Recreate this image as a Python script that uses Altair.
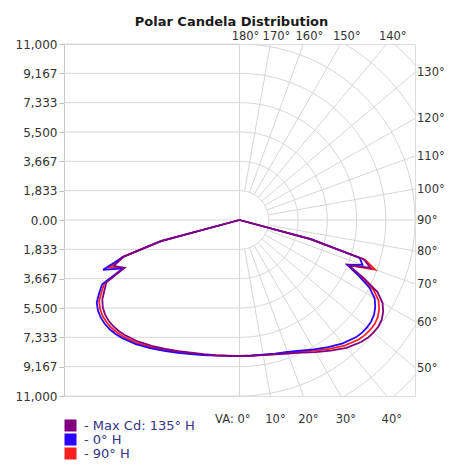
import altair as alt
import numpy as np
import pandas as pd

TITLE = "Polar Candela Distribution"
SERIES = ["Max Cd: 135° H", "0° H", "90° H"]
COLORS = ["#800080", "#2a00ff", "#ff2020"]
MAX_CD = 11000
N_STEPS = 6

# vertical angles (degrees from nadir)
VA = [0, 5, 10, 15, 20, 25, 30, 35, 40, 45, 47.5, 50, 52.5, 55, 57.5, 60, 62.5, 65, 67.5, 70, 72.5, 75, 80, 90]

# candela, right half (plane itself) and left half (opposite plane)
MAX_R = [8500, 8520, 8580, 8700, 8880, 9150, 9530, 9970, 10430, 10780, 10900, 10950, 10960, 10880, 10680, 10350, 9750, 8600, 7400, 8750, 8150, 4600, 0, 0]
MAX_L = [8500, 8510, 8570, 8680, 8830, 9050, 9310, 9610, 9910, 10170, 10270, 10330, 10340, 10290, 10160, 9930, 9550, 9200, 7800, 8400, 7600, 5000, 0, 0]
H0_R = [8500, 8500, 8540, 8640, 8780, 9010, 9330, 9700, 10070, 10350, 10420, 10440, 10410, 10300, 10090, 9780, 9200, 8250, 7300, 8200, 7900, 4700, 0, 0]
H0_L = [8500, 8530, 8610, 8740, 8920, 9160, 9450, 9780, 10120, 10420, 10540, 10620, 10650, 10620, 10520, 10330, 9920, 9500, 7900, 9100, 7630, 5200, 0, 0]
H90_R = [8500, 8510, 8560, 8670, 8830, 9080, 9430, 9830, 10250, 10560, 10650, 10690, 10680, 10580, 10380, 10060, 9480, 8400, 7350, 9050, 8250, 4500, 0, 0]
H90_L = [8500, 8520, 8590, 8710, 8880, 9110, 9380, 9700, 10020, 10300, 10410, 10480, 10500, 10470, 10360, 10160, 9750, 9350, 7850, 8700, 7700, 5100, 0, 0]

TOP_ANGLES = [180, 170, 160, 150, 140]
RIGHT_ANGLES = [130, 120, 110, 100, 90, 80, 70, 60, 50]
BOTTOM_ANGLES = [10, 20, 30, 40]
RADIAL_ANGLES = [10, 20, 30, 40, 50, 60, 70, 80, 90, 100, 110, 120, 130, 140, 150, 160, 170]
RINGS = [1, 2, 3, 4, 5, 6, 7, 8]

STEP = MAX_CD / N_STEPS
TICKS = [k * STEP for k in range(-N_STEPS, N_STEPS + 1)]

# ---- curve table (drawn red, blue, purple so purple is on top)
rows = []
for name, right, left in [(SERIES[2], H90_R, H90_L), (SERIES[1], H0_R, H0_L), (SERIES[0], MAX_R, MAX_L)]:
    for a, v in zip(VA, left):
        rows.append({"series": name, "va": a, "cd": v, "side": -1, "ord": -a - 0.001})
    for a, v in zip(VA, right):
        rows.append({"series": name, "va": a, "cd": v, "side": 1, "ord": a})
curves = pd.DataFrame(rows)

xs = alt.Scale(domain=[-MAX_CD, MAX_CD], nice=False, zero=False)
ys = alt.Scale(domain=[-MAX_CD, MAX_CD], nice=False, zero=False)
GRID = "#d6d6d6"
TXT = "#333333"
FONT = "DejaVu Sans"

yaxis = alt.Axis(
    values=TICKS, grid=False, title=None,
    labelExpr="datum.value == 0 ? '0.00' : format(abs(datum.value), ',.0f')",
    labelFont=FONT, labelFontSize=12, labelColor=TXT, labelPadding=2,
    labelOverlap=False, tickSize=5, tickColor="#bdbdbd", domainColor="#c8c8c8",
)


def X(f):
    return alt.X(f, scale=xs, axis=None)


def Y(f):
    return alt.Y(f, scale=ys, axis=yaxis)


# horizontal grid on the left half
hgrid = alt.Chart(pd.DataFrame({"y": TICKS})).transform_calculate(
    x0=f"-{MAX_CD}", x1="0"
).mark_rule(color=GRID, strokeWidth=1).encode(
    y=Y("y:Q"), x=X("x0:Q"), x2="x1:Q",
)

# central vertical line (0° / 180°)
vline = alt.Chart(pd.DataFrame({"x": [0], "y0": [-MAX_CD], "y1": [MAX_CD]})).mark_rule(
    color=GRID, strokeWidth=1
).encode(x=X("x:Q"), y=Y("y0:Q"), y2="y1:Q")

# rings on the right half
ring_rows = [{"k": k, "phi": p} for k in RINGS for p in range(0, 181, 2)]
rings = alt.Chart(pd.DataFrame(ring_rows)).transform_calculate(
    x=f"datum.k*{STEP}*sin(datum.phi*PI/180)",
    y=f"-datum.k*{STEP}*cos(datum.phi*PI/180)",
).mark_line(color=GRID, strokeWidth=1, clip=True).encode(
    x=X("x:Q"), y=Y("y:Q"), detail="k:N", order="phi:Q",
)

# radial lines
radials = alt.Chart(pd.DataFrame({"a": RADIAL_ANGLES})).transform_calculate(
    x=f"{STEP}*sin(datum.a*PI/180)",
    y=f"-{STEP}*cos(datum.a*PI/180)",
    x2=f"{MAX_CD * 2}*sin(datum.a*PI/180)",
    y2=f"-{MAX_CD * 2}*cos(datum.a*PI/180)",
).mark_rule(color=GRID, strokeWidth=1, clip=True).encode(
    x=X("x:Q"), y=Y("y:Q"), x2="x2:Q", y2="y2:Q",
)

legend = alt.Legend(
    title=None, orient="none", legendX=0, legendY=375, direction="vertical",
    symbolType="square", symbolSize=36, symbolStrokeWidth=6, symbolOpacity=1,
    labelFont=FONT, labelFontSize=13, labelColor="#333388",
    labelExpr="'- ' + datum.label", rowPadding=0, labelOffset=7, padding=0,
    clipHeight=13,
)

# curves
lines = alt.Chart(curves).transform_calculate(
    x="datum.side*datum.cd*sin(datum.va*PI/180)",
    y="-datum.cd*cos(datum.va*PI/180)",
).mark_line(strokeWidth=1.8, clip=True).encode(
    x=X("x:Q"), y=Y("y:Q"),
    stroke=alt.Stroke("series:N", scale=alt.Scale(domain=SERIES, range=COLORS), legend=legend),
    detail="series:N",
    order="ord:Q",
)

label_style = dict(font=FONT, fontSize=11.5, color=TXT)

top_labels = alt.Chart(pd.DataFrame({"a": TOP_ANGLES})).transform_calculate(
    x=f"{MAX_CD}*tan((180-datum.a)*PI/180)",
    y=f"{MAX_CD}",
    t="datum.a + '°'",
).mark_text(align="center", baseline="alphabetic", dx=6, dy=-4, **label_style).encode(
    x=X("x:Q"), y=Y("y:Q"), text="t:N"
)

right_labels = alt.Chart(pd.DataFrame({"a": RIGHT_ANGLES})).transform_calculate(
    x=f"{MAX_CD}",
    y=f"-{MAX_CD}*cos(datum.a*PI/180)/sin(datum.a*PI/180)",
    t="datum.a + '°'",
).mark_text(align="left", baseline="middle", dx=2, dy=1, **label_style).encode(
    x=X("x:Q"), y=Y("y:Q"), text="t:N"
)

bottom_labels = alt.Chart(pd.DataFrame({"a": BOTTOM_ANGLES})).transform_calculate(
    x=f"{MAX_CD}*tan(datum.a*PI/180)",
    y=f"-{MAX_CD}",
    t="datum.a + '°'",
).mark_text(align="center", baseline="middle", dx=5, dy=24, **label_style).encode(
    x=X("x:Q"), y=Y("y:Q"), text="t:N"
)

va_label = alt.Chart(pd.DataFrame({"a": [0]})).transform_calculate(
    x="0", y=f"-{MAX_CD}", t="'VA: ' + datum.a + '°'",
).mark_text(align="right", baseline="middle", dx=11, dy=24, **label_style).encode(
    x=X("x:Q"), y=Y("y:Q"), text="t:N"
)

chart = alt.layer(
    hgrid, vline, rings, radials, lines,
    top_labels, right_labels, bottom_labels, va_label,
).properties(
    width=351,
    height=352,
    title=alt.TitleParams(
        TITLE, font=FONT, fontSize=13, fontWeight="bold", color="#1a1a1a",
        anchor="middle", dx=-8, offset=2,
    ),
    autosize=alt.AutoSizeParams(type="none"),
    padding={"left": 56, "top": 36, "right": 30, "bottom": 65},
).configure_view(stroke="#c8c8c8", strokeWidth=1).configure(font=FONT)

chart.save("out.html", embed_options={"renderer": "svg", "actions": False})
